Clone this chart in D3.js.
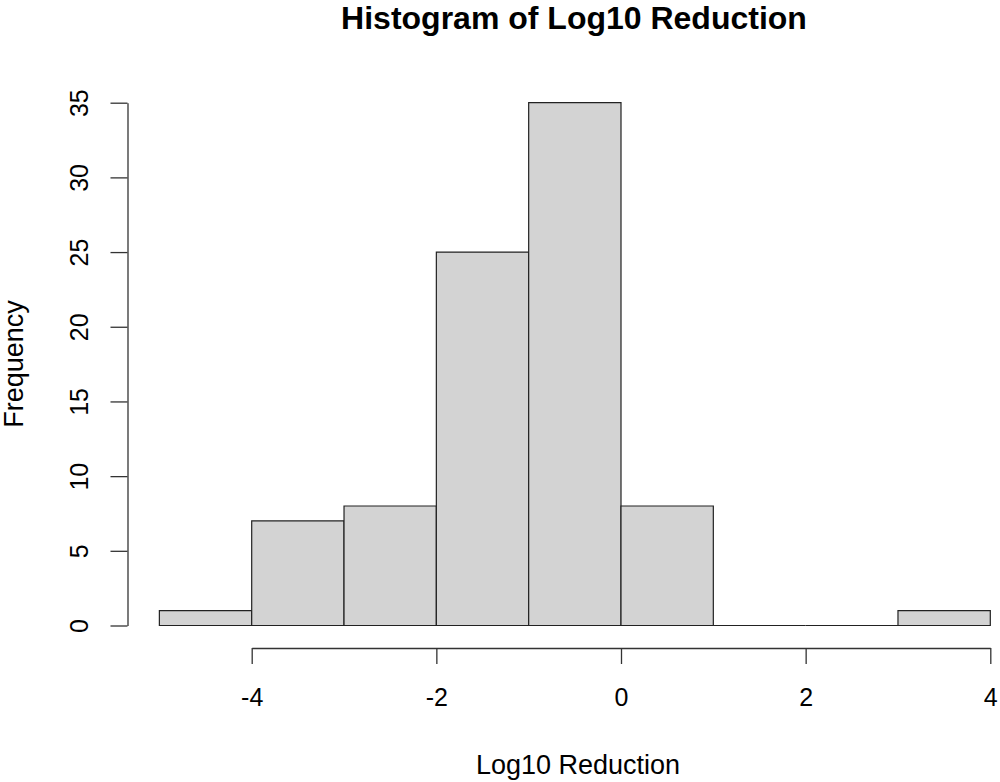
<!DOCTYPE html>
<html>
<head>
<meta charset="utf-8">
<script src="https://cdn.jsdelivr.net/npm/d3@7"></script>
<style>
  body { margin: 0; background: #fff; }
  svg { font-family: "Liberation Sans", Arial, sans-serif; }
</style>
</head>
<body>
<div id="chart"></div>
<script>
// bin edges and counts
var binStarts = [-5, -4, -3, -2, -1, 0, 1, 2, 3];
var binWidth = 1;
var counts = [1, 7, 8, 25, 35, 8, 0, 0, 1];
var xTicks = [-4, -2, 0, 2, 4];
var yTicks = [0, 5, 10, 15, 20, 25, 30, 35];

var width = 1000;
var height = 782;

var svg = d3.select('#chart').append('svg')
  .attr('width', width)
  .attr('height', height);

var x = d3.scaleLinear().domain([-4, 4]).range([251.7, 990.3]);
var y = d3.scaleLinear().domain([0, 35]).range([625.5, 102.7]);

// bars as paths so empty bins still show their bottom line
svg.append('g')
  .selectAll('path')
  .data(binStarts)
  .enter().append('path')
  .attr('d', function(d, i) {
    var p = d3.path();
    p.rect(x(d), y(counts[i]), x(d + binWidth) - x(d), y(0) - y(counts[i]));
    return p.toString();
  })
  .attr('fill', '#d3d3d3')
  .attr('stroke', '#222')
  .attr('stroke-width', 1.2);

// x axis, offset below the bars like R does
var xAxis = d3.axisBottom(x)
  .tickValues(xTicks)
  .tickSizeInner(16)
  .tickSizeOuter(0)
  .tickPadding(24)
  .tickFormat(function(d) { return String(d); });

svg.append('g')
  .attr('transform', 'translate(0,648)')
  .call(xAxis)
  .call(function(g) {
    g.select('.domain').attr('stroke', '#333').attr('stroke-width', 1.3);
    g.selectAll('.tick line').attr('stroke', '#333').attr('stroke-width', 1.3);
    g.selectAll('text').attr('font-size', 25).attr('fill', '#000');
  });

// y axis
var yAxis = d3.axisLeft(y)
  .tickValues(yTicks)
  .tickSizeInner(17)
  .tickSizeOuter(0);

svg.append('g')
  .attr('transform', 'translate(127.5,0)')
  .call(yAxis)
  .call(function(g) {
    g.select('.domain').attr('stroke', '#333').attr('stroke-width', 1.3);
    g.selectAll('.tick line').attr('stroke', '#333').attr('stroke-width', 1.3);
    g.selectAll('text')
      .attr('font-size', 25)
      .attr('fill', '#000')
      .attr('x', 0)
      .attr('dy', 0)
      .attr('text-anchor', 'middle')
      .attr('transform', 'translate(-39.5,0) rotate(-90)');
  });

// title and axis labels
svg.append('text')
  .attr('x', 574)
  .attr('y', 29)
  .attr('text-anchor', 'middle')
  .attr('font-size', 32)
  .attr('font-weight', 'bold')
  .text('Histogram of Log10 Reduction');

svg.append('text')
  .attr('x', 578)
  .attr('y', 774)
  .attr('text-anchor', 'middle')
  .attr('font-size', 27)
  .text('Log10 Reduction');

svg.append('text')
  .attr('transform', 'translate(23,364) rotate(-90)')
  .attr('text-anchor', 'middle')
  .attr('font-size', 27)
  .text('Frequency');
</script>
</body>
</html>
